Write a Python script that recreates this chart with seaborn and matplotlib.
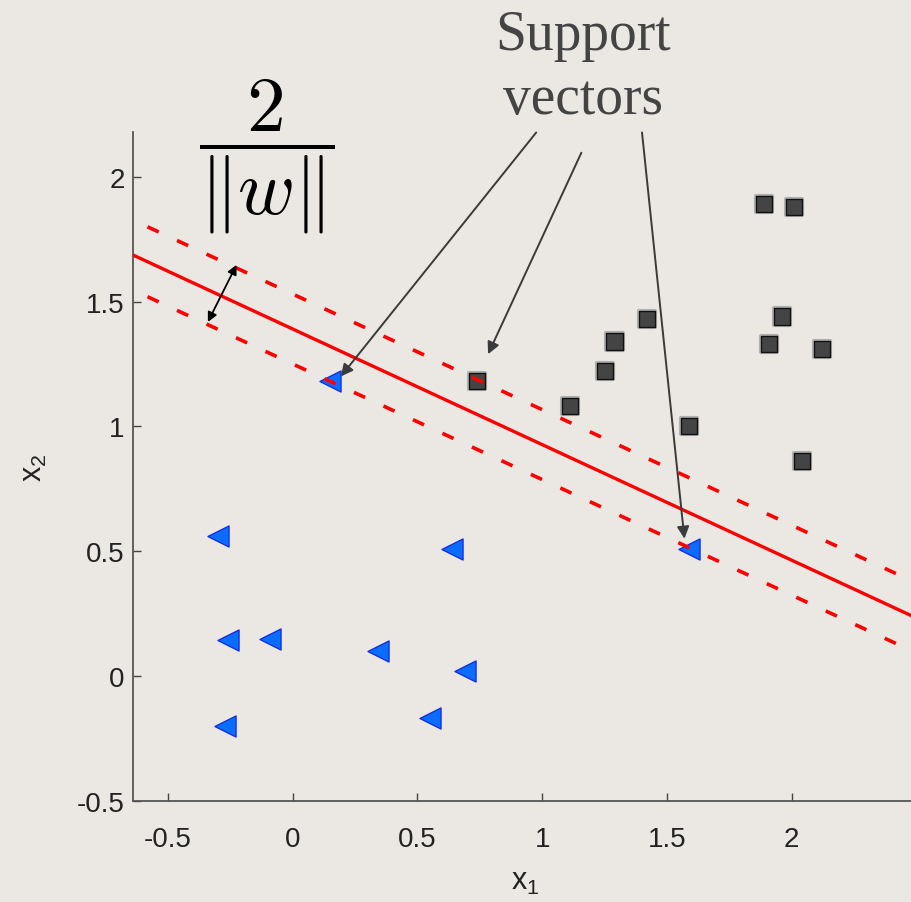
import matplotlib
matplotlib.use("Agg")
import matplotlib.pyplot as plt
import matplotlib.patheffects as pe
import pandas as pd
import seaborn as sns

# class -1 (triangles) and class +1 (squares)
neg_x = [0.15, -0.30, -0.26, -0.09, 0.34, 0.64, 0.69, 0.55, -0.27, 1.59]
neg_y = [1.18, 0.56, 0.145, 0.15, 0.10, 0.51, 0.02, -0.17, -0.20, 0.51]
pos_x = [0.74, 1.11, 1.25, 1.29, 1.42, 1.59, 1.89, 2.01, 1.96, 1.91, 2.12, 2.04]
pos_y = [1.18, 1.08, 1.22, 1.34, 1.43, 1.00, 1.89, 1.88, 1.44, 1.33, 1.31, 0.86]

# decision boundary and margins (end points)
line_x = [-0.7, 2.6]
boundary_y = [1.714, 0.186]
upper_y = [1.854, 0.326]
lower_y = [1.574, 0.046]

tick_vals = [-0.5, 0, 0.5, 1, 1.5, 2]
tick_labels = ["-0.5", "0", "0.5", "1", "1.5", "2"]

neg = pd.DataFrame({"x1": neg_x, "x2": neg_y})
pos = pd.DataFrame({"x1": pos_x, "x2": pos_y})

bg = "#ebe8e3"
sns.set_theme(style="ticks")
plt.rcParams["font.family"] = ["Liberation Sans", "DejaVu Sans"]
plt.rcParams["mathtext.fontset"] = "cm"

fig = plt.figure(figsize=(9.11, 9.03), dpi=100, facecolor=bg)
ax = fig.add_axes([0.146, 0.112, 0.86, 0.741])
ax.set_facecolor(bg)

sns.scatterplot(data=neg, x="x1", y="x2", marker="<", s=230, color="#0a6dff",
                edgecolor="#1530e0", linewidth=1.0, ax=ax, zorder=3)
sns.scatterplot(data=pos, x="x1", y="x2", marker="s", s=135, color="#444444",
                edgecolor="#111111", linewidth=1.0, ax=ax, zorder=3,
                path_effects=[pe.withStroke(linewidth=3, foreground="#b0b0b0")])

sns.lineplot(x=line_x, y=boundary_y, color="#ff0000", lw=2.4, ax=ax, zorder=4)
sns.lineplot(x=line_x, y=upper_y, color="#ff0000", lw=2.6, ax=ax, zorder=4,
             linestyle=(0, (3.4, 5.6)))
sns.lineplot(x=line_x, y=lower_y, color="#ff0000", lw=2.6, ax=ax, zorder=4,
             linestyle=(0, (3.4, 5.6)))

ax.set_xlim(-0.64, 2.50)
ax.set_ylim(-0.5, 2.18)
ax.set_xticks(tick_vals)
ax.set_xticklabels(tick_labels)
ax.set_yticks(tick_vals)
ax.set_yticklabels(tick_labels)
ax.tick_params(direction="in", length=6, width=1, colors="#444444",
               labelsize=20, labelcolor="#222222")
ax.tick_params(axis="x", pad=18)
ax.tick_params(axis="y", pad=6)
for side in ["top", "right"]:
    ax.spines[side].set_visible(False)
for side in ["left", "bottom"]:
    ax.spines[side].set_color("#555555")
    ax.spines[side].set_linewidth(1.3)

ax.set_xlabel(r"$\mathregular{x_1}$", fontsize=22, color="#222222", labelpad=10)
ax.set_ylabel(r"$\mathregular{x_2}$", fontsize=22, color="#222222", labelpad=20)

# margin width arrow
ax.annotate("", xy=(-0.225, 1.647), xytext=(-0.34, 1.418),
            arrowprops=dict(arrowstyle="<|-|>", color="black", lw=1.3,
                            mutation_scale=14, shrinkA=0, shrinkB=0), zorder=5)

# support vector arrows
tails = [(0.976, 2.177), (1.157, 2.096), (1.40, 2.177)]
heads = [(0.193, 1.20), (0.783, 1.289), (1.57, 0.55)]
for t, h in zip(tails, heads):
    ax.annotate("", xy=h, xytext=t, annotation_clip=False,
                arrowprops=dict(arrowstyle="-|>", color="#3a3a3a", lw=1.4,
                                mutation_scale=18, shrinkA=0, shrinkB=0), zorder=5)

fig.text(583 / 911, 1 - 10 / 903, "Support\nvectors", ha="center", va="top",
         fontsize=40, color="#444444", family="Liberation Serif", linespacing=1.3)
fig.text(267 / 911, 1 - 157 / 903, r"$\dfrac{2}{\|w\|}$", ha="center", va="center",
         fontsize=56, color="black")

sns.despine(ax=ax)
fig.savefig("out.png", dpi=100, facecolor=bg)
